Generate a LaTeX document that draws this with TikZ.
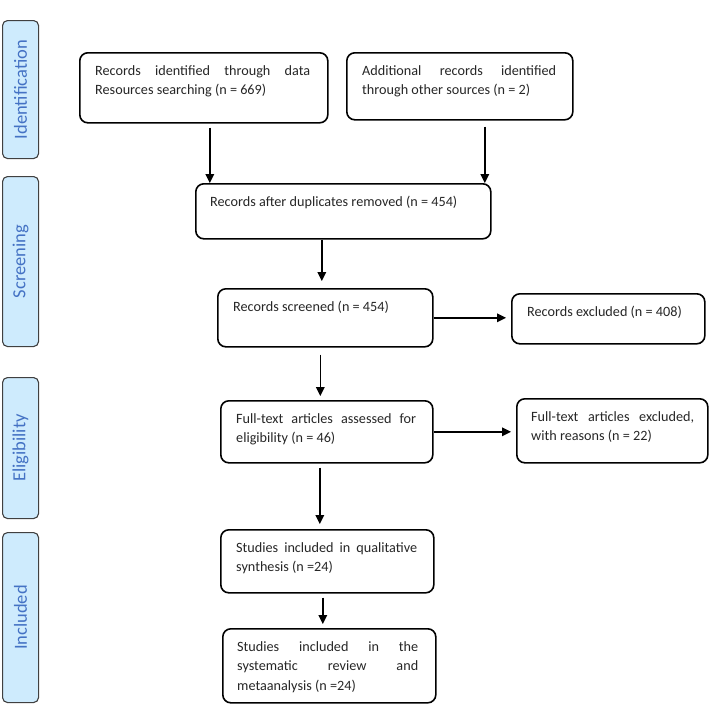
\documentclass[tikz,border=0pt]{standalone}
\usepackage{fontspec}
\setmainfont{Carlito}
\usetikzlibrary{arrows.meta,calc}
\definecolor{sidefill}{RGB}{206,235,253}
\definecolor{sidetext}{RGB}{68,114,196}
\definecolor{sideline}{RGB}{64,64,64}
\hyphenpenalty=10000
\exhyphenpenalty=10000
\tolerance=10000
\newcommand{\firstup}{\rule{0pt}{23pt}}
\tikzset{
  box/.style={draw=black, line width=1.6pt, rounded corners=8pt, anchor=north west, inner sep=0pt},
  boxtext/.style={anchor=north west, inner sep=0pt, align=justify, text=black!85, font=\fontsize{14.2}{19.5}\selectfont},
  side/.style={draw=sideline, fill=sidefill, line width=1.1pt, rounded corners=5pt, anchor=north west, inner sep=0pt, minimum width=36pt},
  sidelabel/.style={rotate=90, text=sidetext, inner sep=0pt, font=\fontsize{18.5}{22}\selectfont},
  arr/.style={-{Triangle[length=9pt,width=8.5pt]}, line width=1.6pt},
}
\begin{document}
\begin{tikzpicture}[x=1pt,y=-1pt]
\useasboundingbox (0,0) rectangle (709,704);
% side phase boxes
\node[side, minimum height=138pt] (s1) at (2,20) {};
\node[sidelabel] (s1t) at (s1.center) {Identification};
\node[side, minimum height=170pt] (s2) at (2,176) {};
\node[sidelabel] (s2t) at (s2.center) {Screening};
\node[side, minimum height=141pt] (s3) at (2,377) {};
\node[sidelabel] (s3t) at (s3.center) {Eligibility};
\node[side, minimum height=170pt] (s4) at (2,532) {};
\node[sidelabel] (s4t) at (s4.center) {Included};
% main boxes
\node[box, minimum width=248pt, minimum height=70pt] (a) at (79,52) {};
\node[boxtext, text width=215pt] (at) at ($(a.north west)+(16,0)$) {\firstup Records identified through data Resources searching (n = 669)};
\node[box, minimum width=226pt, minimum height=67pt] (b) at (346,52) {};
\node[boxtext, text width=194pt] (bt) at ($(b.north west)+(16,0)$) {\firstup Additional records identified through other sources (n = 2)};
\node[box, minimum width=295pt, minimum height=55pt] (c) at (195,183) {};
\node[boxtext, text width=265pt] (ct) at ($(c.north west)+(15,0)$) {\firstup Records after duplicates removed (n = 454)};
\node[box, minimum width=215pt, minimum height=58pt] (d) at (217,288) {};
\node[boxtext, text width=183pt] (dt) at ($(d.north west)+(16,0)$) {\firstup Records screened (n = 454)};
\node[box, minimum width=193pt, minimum height=50pt] (x) at (511,293) {};
\node[boxtext, text width=172pt] (xt) at ($(x.north west)+(16,0)$) {\firstup Records excluded (n = 408)};
\node[box, minimum width=212pt, minimum height=62pt] (g) at (220,400) {};
\node[boxtext, text width=180pt] (gt) at ($(g.north west)+(16,0)$) {\firstup Full-text articles assessed for eligibility (n = 46)};
\node[box, minimum width=191pt, minimum height=64pt] (h) at (516,398) {};
\node[boxtext, text width=163pt] (ht) at ($(h.north west)+(15,0)$) {\firstup Full-text articles excluded, with reasons (n = 22)};
\node[box, minimum width=213pt, minimum height=63pt] (e) at (220,529) {};
\node[boxtext, text width=181pt] (et) at ($(e.north west)+(16,0)$) {\firstup Studies included in qualitative synthesis (n =24)};
\node[box, minimum width=213pt, minimum height=74pt] (f) at (222,628) {};
\node[boxtext, text width=181pt] (ft) at ($(f.north west)+(15,0)$) {\firstup Studies included in the systematic review and metaanalysis (n =24)};
% connectors
\coordinate (a1) at ([xshift=6pt]a.south);
\draw[arr, shorten <=4pt] (a1) -- (a1 |- c.north);
\coordinate (b1) at ([xshift=25pt]b.south);
\draw[arr, shorten <=6pt] (b1) -- (b1 |- c.north);
\coordinate (c1) at ([xshift=-21.5pt]c.south);
\draw[arr, shorten >=7pt] (c1) -- (c1 |- d.north);
\draw[arr, shorten >=5pt] (d.east) -- (d.east -| x.west);
\coordinate (d1) at ([xshift=-5pt]d.south);
\draw[arr, shorten <=7pt, shorten >=4pt] (d1) -- (d1 |- g.north);
\draw[arr, shorten >=5pt] (g.east) -- (g.east -| h.west);
\coordinate (g1) at ([xshift=-7pt]g.south);
\draw[arr, shorten <=4pt, shorten >=5pt] (g1) -- (g1 |- e.north);
\coordinate (e1) at ([xshift=-4.5pt]e.south);
\draw[arr, shorten <=4pt, shorten >=4pt] (e1) -- (e1 |- f.north);
\end{tikzpicture}
\end{document}
